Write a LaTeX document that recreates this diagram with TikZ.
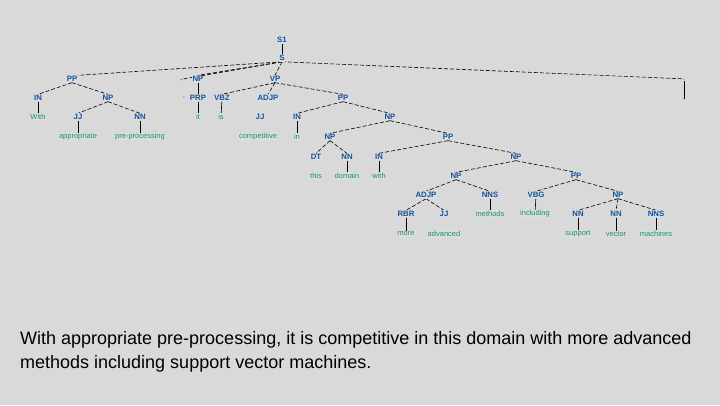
\documentclass[tikz,border=0pt]{standalone}
\usepackage{fontspec}
\setmainfont{Liberation Sans}
\pgfdeclarelayer{bglayer}
\pgfdeclarelayer{edgelayer}
\pgfsetlayers{bglayer,edgelayer,main}
\begin{document}
\begin{tikzpicture}[x=1pt,y=-1pt,
  cat/.style={font=\fontsize{7.8}{8}\selectfont\bfseries, text=catblue, fill=nodebg, inner sep=0.8pt},
  leaf/.style={font=\fontsize{7.5}{8}\selectfont, text=leafgreen, fill=leafbg, inner sep=0.8pt},
  punct/.style={font=\fontsize{8}{8}\selectfont, text=gray, inner sep=0.5pt},
  edge/.style={draw=black, line width=0.6pt, dash pattern=on 4pt off 2pt},
  vedge/.style={draw=black, line width=0.6pt}]
\definecolor{catblue}{HTML}{1F4E8C}
\definecolor{leafgreen}{HTML}{2E8B57}
\definecolor{nodebg}{HTML}{D3DEE8}
\definecolor{leafbg}{HTML}{D5E0DC}
\definecolor{bg}{HTML}{D9D9D9}
\useasboundingbox (0,0) rectangle (720,405);
\begin{pgfonlayer}{bglayer}
\fill[bg] (0,0) rectangle (720,405);
\end{pgfonlayer}
% nodes
\node[cat] (s1) at (282,40) {S1};
\node[cat] (s) at (282,58) {S};
\node[cat] (pp1) at (72,79) {PP};
\node[punct] (comma) at (181,81) {,};
\node[cat] (np1) at (198,79) {NP};
\node[cat] (vp) at (275,79) {VP};
\node[punct] (dot) at (684,80) {.};
\node[cat] (in1) at (38,98) {IN};
\node[cat] (np2) at (108,98) {NP};
\node[punct] (commaw) at (184,98) {,};
\node[cat] (prp) at (198,98) {PRP};
\node[cat] (vbz) at (222,98) {VBZ};
\node[cat] (adjp1) at (268,98) {ADJP};
\node[cat] (pp2) at (343,98) {PP};
\node[punct] (dotw) at (684,100) {.};
\node[leaf] (with1) at (38,117) {With};
\node[cat] (jj1) at (78,117) {JJ};
\node[cat] (nn1) at (140,117) {NN};
\node[leaf] (it) at (198,117) {it};
\node[leaf] (is) at (221,117) {is};
\node[cat] (jj2) at (260,117) {JJ};
\node[cat] (in2) at (297,117) {IN};
\node[cat] (np3) at (390,117) {NP};
\node[leaf] (appr) at (78,137) {appropriate};
\node[leaf] (prep) at (140,137) {pre-processing};
\node[leaf] (comp) at (258,137) {competitive};
\node[leaf] (in) at (297,137) {in};
\node[cat] (np4) at (330,137) {NP};
\node[cat] (pp3) at (448,137) {PP};
\node[cat] (dt) at (316,157) {DT};
\node[cat] (nn2) at (347,157) {NN};
\node[cat] (in3) at (379,157) {IN};
\node[cat] (np5) at (516,157) {NP};
\node[leaf] (this) at (316,176) {this};
\node[leaf] (domain) at (347,176) {domain};
\node[leaf] (with2) at (379,176) {with};
\node[cat] (np6) at (456,176) {NP};
\node[cat] (pp4) at (576,176) {PP};
\node[cat] (adjp2) at (426,195) {ADJP};
\node[cat] (nns1) at (490,195) {NNS};
\node[cat] (vbg) at (536,195) {VBG};
\node[cat] (np7) at (618,195) {NP};
\node[cat] (rbr) at (406,214) {RBR};
\node[cat] (jj3) at (444,214) {JJ};
\node[leaf] (methods) at (490,214) {methods};
\node[leaf] (including) at (535,214) {including};
\node[cat] (nn3) at (578,214) {NN};
\node[cat] (nn4) at (616,214) {NN};
\node[cat] (nns2) at (656,214) {NNS};
\node[leaf] (more) at (406,234) {more};
\node[leaf] (advanced) at (444,234) {advanced};
\node[leaf] (support) at (578,234) {support};
\node[leaf] (vector) at (616,234) {vector};
\node[leaf] (machines) at (656,234) {machines};
% edges
\begin{pgfonlayer}{edgelayer}
\draw[vedge] (s1) -- (s);
\draw[edge] (s.south) -- (pp1.north east);
\draw[edge] (s.south) -- (comma.north);
\draw[edge] (s.south) -- (np1.north);
\draw[edge] (s.south) -- (vp.north);
\draw[edge] (s.south) -- (dot.north);
\draw[vedge] (dot) -- (dotw);
\draw[edge] (pp1.south) -- (in1.north);
\draw[edge] (pp1.south) -- (np2.north);
\draw[vedge] (np1) -- (prp);
\draw[edge] (vp.south) -- (vbz.north);
\draw[edge] (vp.south) -- (adjp1.north);
\draw[edge] (vp.south) -- (pp2.north);
\draw[vedge] (in1) -- (with1);
\draw[edge] (np2.south) -- (jj1.north);
\draw[edge] (np2.south) -- (nn1.north);
\draw[vedge] (prp) -- (it);
\draw[vedge] (vbz) -- (is);
\draw[edge] (pp2.south) -- (in2.north);
\draw[edge] (pp2.south) -- (np3.north);
\draw[vedge] (jj1) -- (appr);
\draw[vedge] (nn1) -- (prep);
\draw[vedge] (in2) -- (in);
\draw[edge] (np3.south) -- (np4.north);
\draw[edge] (np3.south) -- (pp3.north);
\draw[edge] (np4.south) -- (dt.north);
\draw[edge] (np4.south) -- (nn2.north);
\draw[edge] (pp3.south) -- (in3.north);
\draw[edge] (pp3.south) -- (np5.north);
\draw[vedge] (nn2) -- (domain);
\draw[vedge] (in3) -- (with2);
\draw[edge] (np5.south) -- (np6.north);
\draw[edge] (np5.south) -- (pp4.north);
\draw[edge] (np6.south) -- (adjp2.north);
\draw[edge] (np6.south) -- (nns1.north);
\draw[edge] (pp4.south) -- (vbg.north);
\draw[edge] (pp4.south) -- (np7.north);
\draw[edge] (adjp2.south) -- (rbr.north);
\draw[edge] (adjp2.south) -- (jj3.north);
\draw[vedge] (nns1) -- (methods);
\draw[vedge] (vbg) -- (including);
\draw[edge] (np7.south) -- (nn3.north);
\draw[edge] (np7.south) -- (nn4.north);
\draw[edge] (np7.south) -- (nns2.north);
\draw[vedge] (rbr) -- (more);
\draw[vedge] (nn3) -- (support);
\draw[vedge] (nn4) -- (vector);
\draw[vedge] (nns2) -- (machines);
\end{pgfonlayer}
% sentence
\node[anchor=base west, font=\fontsize{18}{24}\selectfont, inner sep=0pt] (sent1) at (20,344) {With appropriate pre-processing, it is competitive in this domain with more advanced};
\node[anchor=base west, font=\fontsize{18}{24}\selectfont, inner sep=0pt] (sent2) at (20,368) {methods including support vector machines.};
\end{tikzpicture}
\end{document}
